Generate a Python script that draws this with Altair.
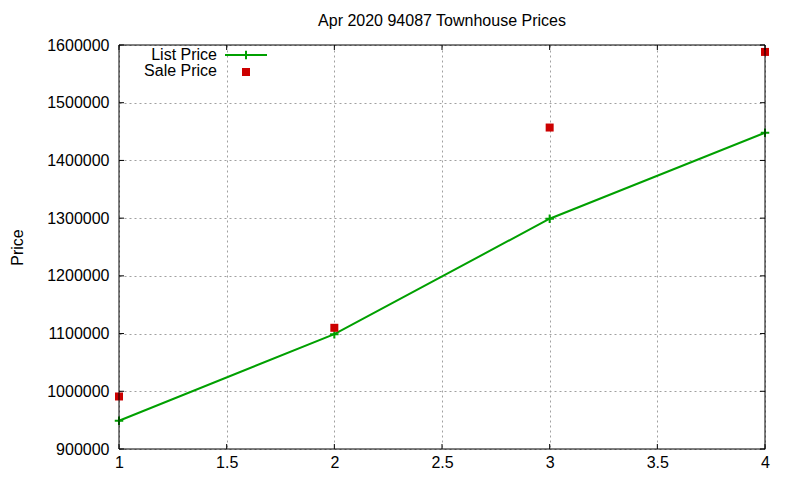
import altair as alt
import pandas as pd

# ---- data ----
bedrooms = [1, 2, 3, 4]
list_price = [949000, 1099000, 1299000, 1448000]
sale_price = [991000, 1110000, 1457000, 1588000]
x_ticks = [1, 1.5, 2, 2.5, 3, 3.5, 4]
y_ticks = [900000, 1000000, 1100000, 1200000, 1300000, 1400000, 1500000, 1600000]
legend_labels = ["List Price", "Sale Price"]
chart_title = "Apr 2020 94087 Townhouse Prices"
y_title = "Price"

# ---- styling ----
W, H = 646, 404
FONT = "Liberation Sans"
FS = 16
GREEN = "#00a000"
RED = "#cc0000"
PLUS = "M-1,0L1,0M0,-1L0,1"
TICK = 5

df = pd.DataFrame({"x": bedrooms, "list": list_price, "sale": sale_price})
xt = pd.DataFrame({"x": x_ticks})
yt = pd.DataFrame({"y": y_ticks})

xscale = alt.Scale(domain=[1, 4], nice=False, zero=False)
yscale = alt.Scale(domain=[900000, 1600000], nice=False, zero=False)

xaxis = alt.Axis(values=x_ticks, format="~g", title=None, grid=True,
                 gridDash=[2, 3], gridColor="#a0a0a0", gridWidth=1,
                 domain=False, ticks=False, tickSize=0, labelPadding=5,
                 labelFont=FONT, labelFontSize=FS, labelColor="black",
                 labelFlush=False, labelOverlap=False)
yaxis = alt.Axis(values=y_ticks, format="d", title=y_title, grid=True,
                 gridDash=[2, 3], gridColor="#a0a0a0", gridWidth=1,
                 domain=False, ticks=False, tickSize=0, labelPadding=10,
                 labelFont=FONT, labelFontSize=FS, labelColor="black",
                 labelFlush=False, labelOverlap=False,
                 titleFont=FONT, titleFontSize=FS, titleFontWeight="normal",
                 titleColor="black", titleAngle=-90, titleAlign="center",
                 titleBaseline="middle", titleX=-102, titleY=H / 2)


def X(f):
    return alt.X(f"{f}:Q", scale=xscale, axis=xaxis)


def Y(f):
    return alt.Y(f"{f}:Q", scale=yscale, axis=yaxis)


line = alt.Chart(df).mark_line(color=GREEN, strokeWidth=2).encode(x=X("x"), y=Y("list"))
plus = alt.Chart(df).mark_point(shape=PLUS, filled=False, color=GREEN, strokeWidth=2,
                                size=72, opacity=1).encode(x=X("x"), y=Y("list"))
sale = alt.Chart(df).mark_square(color=RED, size=64, opacity=1).encode(x=X("x"), y=Y("sale"))

# inward mirror ticks
yl = alt.Chart(yt).mark_rule(color="black").encode(y=Y("y"), x=alt.value(0), x2=alt.value(TICK))
yr = alt.Chart(yt).mark_rule(color="black").encode(y=Y("y"), x=alt.value(W - TICK), x2=alt.value(W))
xb = alt.Chart(xt).mark_rule(color="black").encode(x=X("x"), y=alt.value(H), y2=alt.value(H - TICK))
xtp = alt.Chart(xt).mark_rule(color="black").encode(x=X("x"), y=alt.value(0), y2=alt.value(TICK))

# frame drawn on top
frame = [
    alt.Chart(yt.head(1)).mark_rule(color="black").encode(x=alt.value(0), x2=alt.value(W), y=alt.value(0)),
    alt.Chart(yt.head(1)).mark_rule(color="black").encode(x=alt.value(0), x2=alt.value(W), y=alt.value(H)),
    alt.Chart(yt.head(1)).mark_rule(color="black").encode(x=alt.value(0), y=alt.value(0), y2=alt.value(H)),
    alt.Chart(yt.head(1)).mark_rule(color="black").encode(x=alt.value(W), y=alt.value(0), y2=alt.value(H)),
]

# legend (gnuplot style: label left of sample)
leg1 = pd.DataFrame({"label": [legend_labels[0]]})
leg2 = pd.DataFrame({"label": [legend_labels[1]]})
lt1 = alt.Chart(leg1).mark_text(align="right", baseline="middle", font=FONT, fontSize=FS,
                                color="black").encode(x=alt.value(98), y=alt.value(10), text="label:N")
lt2 = alt.Chart(leg2).mark_text(align="right", baseline="middle", font=FONT, fontSize=FS,
                                color="black").encode(x=alt.value(98), y=alt.value(26), text="label:N")
ll = alt.Chart(leg1).mark_rule(color=GREEN, strokeWidth=2).encode(
    x=alt.value(106), x2=alt.value(148), y=alt.value(10))
lp = alt.Chart(leg1).mark_point(shape=PLUS, filled=False, color=GREEN, strokeWidth=2,
                                size=72, opacity=1).encode(x=alt.value(127), y=alt.value(10))
ls = alt.Chart(leg2).mark_square(color=RED, size=64, opacity=1).encode(
    x=alt.value(127), y=alt.value(27))

chart = alt.layer(
    line, plus, sale, yl, yr, xb, xtp, *frame, lt1, lt2, ll, lp, ls
).properties(
    width=W, height=H,
    title=alt.TitleParams(chart_title, font=FONT, fontSize=FS, fontWeight="normal",
                          color="black", anchor="middle", offset=8),
    autosize=alt.AutoSizeParams(type="none"),
    padding={"left": 111, "top": 37, "right": 25, "bottom": 20},
).configure_view(stroke=None)

chart.save("out.html", embed_options={"renderer": "svg", "actions": False})
